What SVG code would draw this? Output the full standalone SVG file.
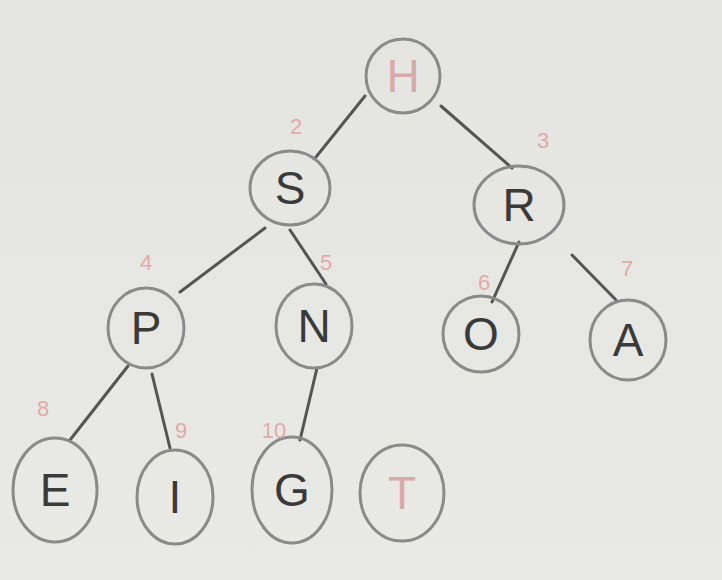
<svg xmlns="http://www.w3.org/2000/svg" width="722" height="580" viewBox="0 0 722 580">
<defs>
<linearGradient id="bg" x1="0" y1="0" x2="0" y2="1">
<stop offset="0" stop-color="#e4e5e1"/>
<stop offset="1" stop-color="#e9e9e6"/>
</linearGradient>
</defs>
<style>
.c{fill:none;stroke:#8a8a8a;stroke-width:3}
.l{font-family:"Liberation Sans",Arial,sans-serif;font-size:46px;fill:#3a3a3a;text-anchor:middle;dominant-baseline:central}
.lr{fill:#d9aaaa}
.n{font-family:"Liberation Sans",Arial,sans-serif;font-size:22px;fill:#e4a9a9;text-anchor:middle;dominant-baseline:central}
.e{stroke:#555;stroke-width:3;fill:none;stroke-linecap:round}
</style>
<rect width="722" height="580" fill="url(#bg)"/>
<g id="connectors">
<line class="e" x1="365" y1="96" x2="316" y2="157"/>
<line class="e" x1="441" y1="106" x2="512" y2="168"/>
<line class="e" x1="265" y1="228" x2="180" y2="292"/>
<line class="e" x1="290" y1="230" x2="326" y2="284"/>
<line class="e" x1="519" y1="242" x2="492" y2="302"/>
<line class="e" x1="572" y1="255" x2="616" y2="300"/>
<line class="e" x1="128" y1="366" x2="70" y2="440"/>
<line class="e" x1="152" y1="374" x2="170" y2="448"/>
<line class="e" x1="317" y1="368" x2="300" y2="440"/>
</g>
<g id="node-H"><ellipse class="c" cx="403" cy="76" rx="37" ry="37"/><text class="l lr" x="403" y="76">H</text></g>
<g id="node-S"><ellipse class="c" cx="290" cy="188" rx="40" ry="37"/><text class="l" x="290" y="188">S</text><text class="n" x="296" y="126">2</text></g>
<g id="node-R"><ellipse class="c" cx="519" cy="205" rx="45" ry="39"/><text class="l" x="519" y="205">R</text><text class="n" x="543" y="140">3</text></g>
<g id="node-P"><ellipse class="c" cx="146" cy="328" rx="38" ry="40"/><text class="l" x="146" y="328">P</text><text class="n" x="146" y="262">4</text></g>
<g id="node-N"><ellipse class="c" cx="314" cy="326" rx="38" ry="42"/><text class="l" x="314" y="326">N</text><text class="n" x="326" y="262">5</text></g>
<g id="node-O"><ellipse class="c" cx="481" cy="334" rx="38" ry="38"/><text class="l" x="481" y="334">O</text><text class="n" x="484" y="282">6</text></g>
<g id="node-A"><ellipse class="c" cx="628" cy="340" rx="38" ry="40"/><text class="l" x="628" y="340">A</text><text class="n" x="627" y="268">7</text></g>
<g id="node-E"><ellipse class="c" cx="55" cy="490" rx="42" ry="52"/><text class="l" x="55" y="490">E</text><text class="n" x="43" y="408">8</text></g>
<g id="node-I"><ellipse class="c" cx="175" cy="497" rx="38" ry="47"/><text class="l" x="175" y="497">I</text><text class="n" x="181" y="430">9</text></g>
<g id="node-G"><ellipse class="c" cx="292" cy="490" rx="40" ry="53"/><text class="l" x="292" y="490">G</text><text class="n" x="274" y="430">10</text></g>
<g id="node-T"><ellipse class="c" cx="402" cy="493" rx="42" ry="48"/><text class="l lr" x="402" y="493">T</text></g>
</svg>
